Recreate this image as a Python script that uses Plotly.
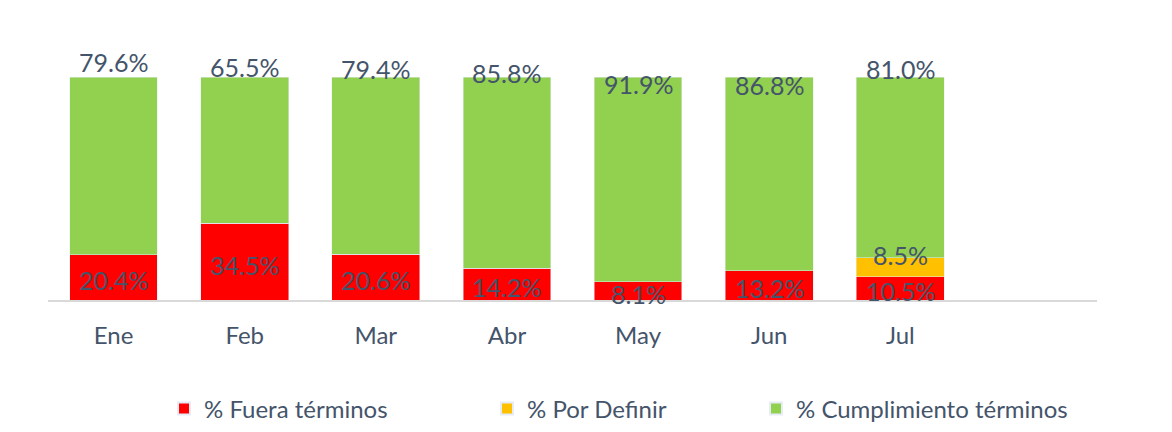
import plotly.graph_objects as go

categories = ["Ene", "Feb", "Mar", "Abr", "May", "Jun", "Jul"]
fuera = [20.4, 34.5, 20.6, 14.2, 8.1, 13.2, 10.5]
por_definir = [0, 0, 0, 0, 0, 0, 8.5]
cumplimiento = [79.6, 65.5, 79.4, 85.8, 91.9, 86.8, 81.0]

# pixel offsets of the top labels (as placed in the original chart)
top_label_shift = [15, 10, 8, 4, -7, -8, 8]

TXT = "#44546A"
FONT = "Lato, Carlito, Calibri, sans-serif"
W, H = 1172, 432
OFF = 8  # page body margin
L, T = 48 - OFF, 77 - OFF
R = W - (1097 - OFF)
B = H - (300 - OFF)
PW = W - L - R
PH = H - T - B
x = list(range(len(categories)))

fig = go.Figure()
fig.add_bar(x=x, y=fuera, name="% Fuera términos", marker_color="#FF0000",
            width=0.67, legend="legend")
fig.add_bar(x=x, y=por_definir, name="% Por Definir", marker_color="#FFC000",
            width=0.67, legend="legend2")
fig.add_bar(x=x, y=cumplimiento, name="% Cumplimiento términos",
            marker_color="#92D050", width=0.67, legend="legend3")

LBL = dict(size=25, color=TXT, family=FONT)
ann = []
for i, c in enumerate(categories):
    ann.append(dict(x=i, y=fuera[i] / 2, text=f"{fuera[i]:.1f}%", showarrow=False,
                    yshift=-3, font=LBL))
    if por_definir[i] > 0:
        ann.append(dict(x=i, y=fuera[i] + por_definir[i], text=f"{por_definir[i]:.1f}%",
                        showarrow=False, yshift=3, font=LBL))
    ann.append(dict(x=i, y=fuera[i] + por_definir[i] + cumplimiento[i],
                    text=f"{cumplimiento[i]:.1f}%", showarrow=False,
                    yshift=top_label_shift[i], font=LBL))


def leg(px):
    sx = px - OFF
    sy = 409 - OFF
    return dict(orientation="h", x=(sx - L) / PW, xanchor="left",
                y=-(sy - (H - B)) / PH, yanchor="middle",
                bgcolor="rgba(0,0,0,0)", borderwidth=0,
                font=dict(size=24, color=TXT, family=FONT),
                itemsizing="constant", itemwidth=30)


fig.update_layout(
    barmode="stack",
    width=W, height=H,
    margin=dict(l=L, r=R, t=T, b=B, autoexpand=False),
    paper_bgcolor="white", plot_bgcolor="white",
    font=dict(family=FONT, color=TXT, size=19),
    showlegend=True,
    legend=leg(164),
    legend2=leg(487),
    legend3=leg(756),
    annotations=ann,
    xaxis=dict(range=[-0.5, 7.5], tickvals=x, ticktext=categories,
               showline=True, linecolor="#D9D9D9", linewidth=1.5,
               showgrid=False, zeroline=False, ticks="", automargin=False,
               ticklabelstandoff=13,
               tickfont=dict(size=24, color=TXT, family=FONT)),
    yaxis=dict(range=[0, 100], visible=False, showgrid=False, zeroline=False,
               automargin=False),
)

fig.write_html("out.html")
